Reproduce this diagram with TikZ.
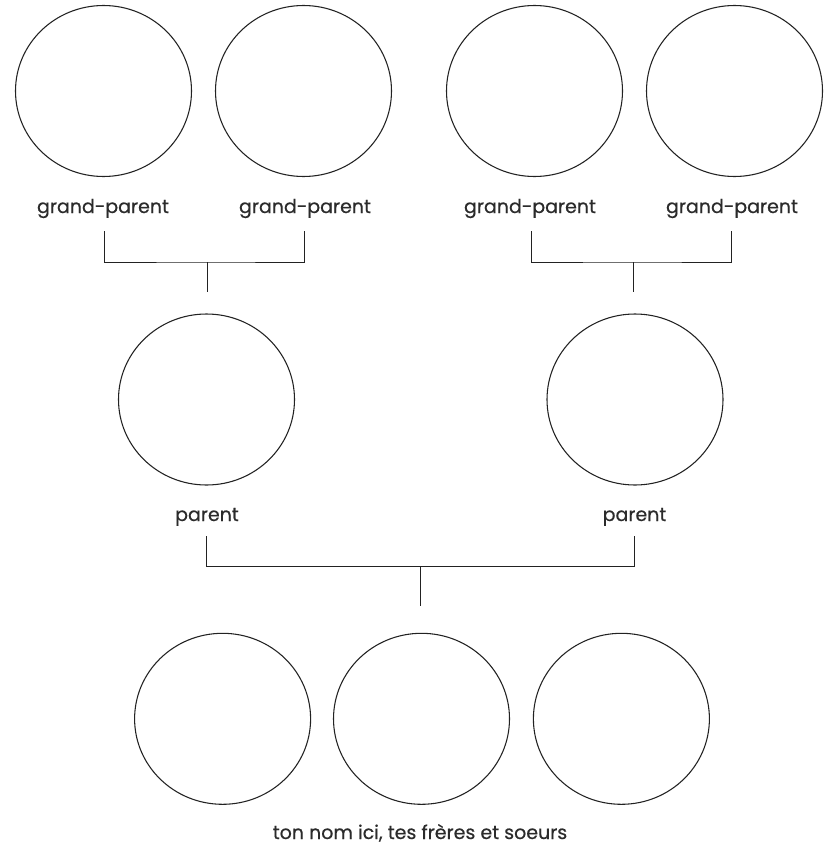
\documentclass[tikz,border=0pt]{standalone}
\usepackage{fontspec}
\setmainfont{Poppins}[FakeBold=0.5]
\usetikzlibrary{shapes.geometric}
\definecolor{txt}{HTML}{2B2B2B}
\definecolor{ln}{HTML}{222222}
\tikzset{
  face/.style={draw=ln, line width=0.8pt, ellipse, inner sep=0pt, minimum width=132pt, minimum height=128.25pt},
  lbl/.style={text=txt, anchor=base, inner sep=0pt, font=\fontsize{14.25pt}{16pt}\selectfont},
  link/.style={draw=ln, line width=0.75pt}
}
\begin{document}
\begin{tikzpicture}[x=0.75pt,y=-0.75pt]
\useasboundingbox[fill=white] (0,0) rectangle (831,846);
% grandparents
\node[face] (g1) at (103.5,91) {};
\node[face] (g2) at (303.5,91) {};
\node[face] (g3) at (534.5,91) {};
\node[face] (g4) at (734.5,91) {};
\node[lbl] (lg1) at (103,213) {grand-parent};
\node[lbl] (lg2) at (305,213) {grand-parent};
\node[lbl] (lg3) at (530,213) {grand-parent};
\node[lbl] (lg4) at (732,213) {grand-parent};
% parents
\node[face] (p1) at (206.5,399.5) {};
\node[face] (p2) at (635,399.5) {};
\node[lbl] (lp1) at (207,521) {parent};
\node[lbl] (lp2) at (634.5,521) {parent};
% children
\node[face] (c1) at (222.6,718.8) {};
\node[face] (c2) at (421.5,718.8) {};
\node[face] (c3) at (621.4,718.8) {};
\node[lbl] (lc) at (420,839) {ton nom ici, tes frères et soeurs};
% bracket coordinates
\coordinate (a1) at (104.3,231);
\coordinate (a2) at (304.3,231);
\coordinate (j1) at (207.3,262);
\coordinate (s1) at (207.3,292);
\coordinate (b1) at (531,231);
\coordinate (b2) at (731,231);
\coordinate (j2) at (633.3,262);
\coordinate (s2) at (633.3,292);
\coordinate (d1) at (206.5,536);
\coordinate (d2) at (634,536);
\coordinate (j3) at (420.7,566.7);
\coordinate (s3) at (420.7,606);
% brackets
\draw[link] (a1) |- (j1) -| (a2);
\draw[link] (j1) -- (s1);
\draw[link] (b1) |- (j2) -| (b2);
\draw[link] (j2) -- (s2);
\draw[link] (d1) |- (j3) -| (d2);
\draw[link] (j3) -- (s3);
\end{tikzpicture}
\end{document}
